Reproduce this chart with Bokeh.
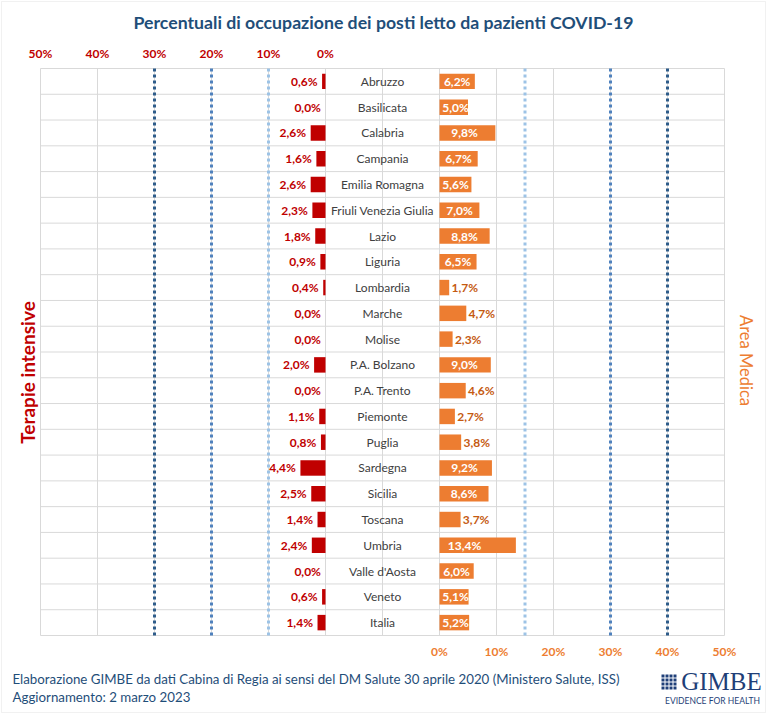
from math import pi

from bokeh.core.properties import value
from bokeh.embed import file_html
from bokeh.models import BoxAnnotation, ColumnDataSource, Label, Range1d
from bokeh.plotting import figure
from bokeh.resources import INLINE

# --- data -------------------------------------------------------------------
regions = ["Abruzzo", "Basilicata", "Calabria", "Campania", "Emilia Romagna",
           "Friuli Venezia Giulia", "Lazio", "Liguria", "Lombardia", "Marche",
           "Molise", "P.A. Bolzano", "P.A. Trento", "Piemonte", "Puglia",
           "Sardegna", "Sicilia", "Toscana", "Umbria", "Valle d'Aosta",
           "Veneto", "Italia"]
terapie_intensive = [0.6, 0.0, 2.6, 1.6, 2.6, 2.3, 1.8, 0.9, 0.4, 0.0, 0.0,
                     2.0, 0.0, 1.1, 0.8, 4.4, 2.5, 1.4, 2.4, 0.0, 0.6, 1.4]
area_medica = [6.2, 5.0, 9.8, 6.7, 5.6, 7.0, 8.8, 6.5, 1.7, 4.7, 2.3,
               9.0, 4.6, 2.7, 3.8, 9.2, 8.6, 3.7, 13.4, 6.0, 5.1, 5.2]
ti_thresholds = [10, 20, 30]
am_thresholds = [15, 30, 40]
axis_ticks = [0, 10, 20, 30, 40, 50]

# --- layout constants -------------------------------------------------------
W, H = 767, 714
AREA_L, AREA_R, AREA_T, AREA_B = 40, 724, 68, 635   # plotting area, px
GAP = 20            # width of the central name column, in percentage units
FONT = "Lato"
RED = "#C00000"
ORANGE = "#ED7D31"
ORANGE_DARK = "#C55A11"
NAVY = "#1F4E79"
LOGO = "#1F3F78"
GRID = "#D9D9D9"
THR_COLORS = ["#9DC3E6", "#4F81BD", "#2E5C8A"]

n = len(regions)
rows = list(range(n))
X0, X1 = -50, 50 + GAP
Y0, Y1 = -0.5, n - 0.5

# the frame fills the whole canvas; ranges are padded so the data area
# lands on the plotting rectangle and the margins hold the free text
px_x = (AREA_R - AREA_L) / (X1 - X0)
px_y = (AREA_B - AREA_T) / (Y1 - Y0)
x_range = Range1d(X0 - AREA_L / px_x, X1 + (W - AREA_R) / px_x)
y_range = Range1d(Y1 + (H - AREA_B) / px_y, Y0 - AREA_T / px_y)

p = figure(width=W, height=H, output_backend="svg", toolbar_location=None,
           x_range=x_range, y_range=y_range,
           x_axis_location=None, y_axis_location=None, min_border=0)
p.background_fill_color = "white"
p.border_fill_color = "white"
p.outline_line_color = None
p.grid.visible = False     # the default grids would span the whole canvas

# grid: vertical every 10% (plus the middle of the name column), row separators
vgrid = [-50, -40, -30, -20, -10, 0, GAP / 2] + [GAP + t for t in axis_ticks]
p.segment(x0=vgrid, x1=vgrid, y0=[Y0] * len(vgrid), y1=[Y1] * len(vgrid),
          line_color=GRID, line_width=1)
hgrid = [i + 0.5 for i in range(-1, n)]
p.segment(x0=[X0] * len(hgrid), x1=[X1] * len(hgrid), y0=hgrid, y1=hgrid,
          line_color=GRID, line_width=1)

# threshold lines
thr_x = [-t for t in ti_thresholds] + [GAP + t for t in am_thresholds]
p.segment(x0=thr_x, x1=thr_x, y0=[Y0] * 6, y1=[Y1] * 6,
          line_color=THR_COLORS + THR_COLORS, line_width=3, line_dash="3 3")

def pct(v):
    return f"{v:.1f}%".replace(".", ",")

# bars
src = ColumnDataSource(dict(
    y=rows, region=regions,
    ti_left=[-v for v in terapie_intensive], zero=[0] * n,
    am_left=[GAP] * n, am_right=[GAP + v for v in area_medica],
))
p.hbar(y="y", left="ti_left", right="zero", height=0.6, source=src,
       fill_color=RED, line_color=None)
p.hbar(y="y", left="am_left", right="am_right", height=0.6, source=src,
       fill_color=ORANGE, line_color=None)

# region names in the central column
p.text(x=GAP / 2, y="y", text="region", source=src, text_align="center",
       text_baseline="middle", text_font=value(FONT), text_font_size="12px",
       text_color="#404040")

# intensive-care value labels, to the left of each bar
p.text(x=[-v - 0.8 for v in terapie_intensive], y=rows,
       text=[pct(v) for v in terapie_intensive], text_align="right",
       text_baseline="middle", text_font=value(FONT), text_font_style="bold",
       text_font_size="12px", text_color=RED)

# general-ward value labels: inside long bars, outside short ones
inside = [v >= 5 for v in area_medica]
in_x = [GAP + min(max(v / 2, 2.8), 4.4) for v, ok in zip(area_medica, inside) if ok]
in_y = [r for r, ok in zip(rows, inside) if ok]
in_t = [pct(v) for v, ok in zip(area_medica, inside) if ok]
out_x = [GAP + v + 0.4 for v, ok in zip(area_medica, inside) if not ok]
out_y = [r for r, ok in zip(rows, inside) if not ok]
out_t = [pct(v) for v, ok in zip(area_medica, inside) if not ok]
p.text(x=in_x, y=in_y, text=in_t, text_align="center", text_baseline="middle",
       text_font=value(FONT), text_font_style="bold", text_font_size="12px",
       text_color="white")
p.text(x=out_x, y=out_y, text=out_t, text_align="left", text_baseline="middle",
       text_font=value(FONT), text_font_style="bold", text_font_size="12px",
       text_color=ORANGE_DARK)

# --- free text; screen units run from the canvas bottom-left ----------------
def label(x, y, text, x_units="screen", **kw):
    p.add_layout(Label(x=x, y=H - y, x_units=x_units, y_units="screen",
                       text=text, text_font=kw.pop("font", FONT), **kw))

def box(left, top, right, bottom, **kw):
    p.add_layout(BoxAnnotation(left=left, right=right, top=H - top,
                               bottom=H - bottom, left_units="screen",
                               right_units="screen", top_units="screen",
                               bottom_units="screen", **kw))

# percentage scales above (intensive care, leftwards) and below (wards)
for t in axis_ticks:
    label(-t, 53, f"{t}%", x_units="data", text_align="center",
          text_baseline="middle", text_font_size="12px",
          text_font_style="bold", text_color=RED)
    label(GAP + t, 651, f"{t}%", x_units="data", text_align="center",
          text_baseline="middle", text_font_size="12px",
          text_font_style="bold", text_color=ORANGE)

label(383, 22, "Percentuali di occupazione dei posti letto da pazienti COVID-19",
      text_align="center", text_baseline="middle", text_font_size="17.7px",
      text_font_style="bold", text_color=NAVY)
label(27, 372, "Terapie intensive", angle=pi / 2, text_align="center",
      text_baseline="middle", text_font_size="19px", text_font_style="bold",
      text_color=RED)
label(745, 360, "Area Medica", angle=-pi / 2, text_align="center",
      text_baseline="middle", text_font_size="16.5px", text_color=ORANGE)
label(12, 678, "Elaborazione GIMBE da dati Cabina di Regia ai sensi del DM Salute "
      "30 aprile 2020 (Ministero Salute, ISS)", text_align="left",
      text_baseline="middle", text_font_size="13.3px", text_color=NAVY)
label(12, 696, "Aggiornamento: 2 marzo 2023", text_align="left",
      text_baseline="middle", text_font_size="13.3px", text_color=NAVY)

# GIMBE mark: a small grid of navy squares
for i in range(4):
    for j in range(4):
        box(661 + 4 * i, 674 + 4 * j, 664 + 4 * i, 677 + 4 * j,
            fill_color=LOGO, fill_alpha=1, line_color=None)
label(721, 681, "GIMBE", font="Liberation Serif", text_align="center",
      text_baseline="middle", text_font_size="25px", text_color=LOGO)
label(712, 700, "EVIDENCE FOR HEALTH", text_align="center",
      text_baseline="middle", text_font_size="8.5px", text_color=LOGO)

# thin frame around the whole canvas
box(1, 1, W - 2, H - 2, fill_alpha=0, line_color="#D0D0D0", line_width=1)

open("out.html", "w").write(file_html(p, INLINE))
